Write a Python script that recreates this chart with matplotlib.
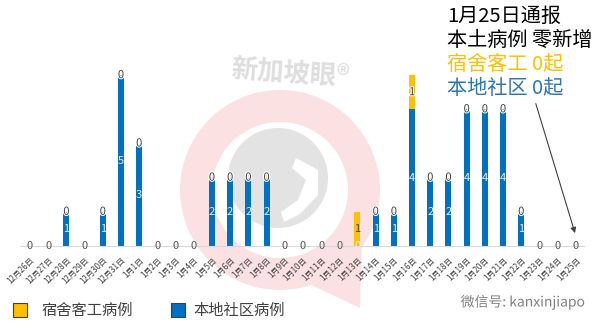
import numpy as np
import matplotlib.pyplot as plt
import matplotlib.patheffects as pe
from matplotlib.patches import Wedge, Polygon, Circle, Rectangle

plt.rcParams['font.family'] = ['Noto Sans CJK SC', 'DejaVu Sans']

# 每日新增病例 12月26日 - 1月25日
dates = ['12月26日', '12月27日', '12月28日', '12月29日', '12月30日', '12月31日',
         '1月1日', '1月2日', '1月3日', '1月4日', '1月5日', '1月6日', '1月7日',
         '1月8日', '1月9日', '1月10日', '1月11日', '1月12日', '1月13日',
         '1月14日', '1月15日', '1月16日', '1月17日', '1月18日', '1月19日',
         '1月20日', '1月21日', '1月22日', '1月23日', '1月24日', '1月25日']
local = [0, 0, 1, 0, 1, 5, 3, 0, 0, 0, 2, 2, 2, 2, 0, 0, 0, 0, 0,
         1, 1, 4, 2, 2, 4, 4, 4, 1, 0, 0, 0]
dorm = [0, 0, 0, 0, 0, 0, 0, 0, 0, 0, 0, 0, 0, 0, 0, 0, 0, 0, 1,
        0, 0, 1, 0, 0, 0, 0, 0, 0, 0, 0, 0]

blue = '#0070C0'
orange = '#FFC000'
W, H = 602, 328

fig = plt.figure(figsize=(W / 100, H / 100), dpi=100)


def fx(px):
    return px / W


def fy(py):
    return 1 - py / H


def pt(px, py):
    # 像素坐标 -> 英寸（左下角为原点）
    return (px / 100, (H - py) / 100)


inch = fig.dpi_scale_trans

# 水印
pink = '#fbe1e1'
fig.patches.append(Wedge(pt(280, 190), 1.0, 0, 360, width=0.32,
                         transform=inch, facecolor=pink,
                         edgecolor='none', zorder=-5))
fig.patches.append(Polygon([pt(305, 282), pt(362, 240), pt(360, 308)],
                           closed=True, transform=inch,
                           facecolor=pink, edgecolor='none', zorder=-5))
fig.patches.append(Circle(pt(278, 178), 0.5, transform=inch,
                          facecolor='#e3e3e3', edgecolor='none', zorder=-4))
fig.patches.append(Polygon([pt(296, 158), pt(318, 170), pt(318, 195),
                            pt(300, 214), pt(284, 222), pt(281, 212),
                            pt(298, 200), pt(306, 180), pt(292, 168)],
                           closed=True, transform=inch,
                           facecolor='white', edgecolor='none', zorder=-3))
fig.text(fx(290), fy(74), '新加坡眼®', fontsize=19, fontweight='bold',
         color='#dedede', ha='center', va='center', rotation=-4, zorder=-3)

ax = fig.add_axes([fx(20), fy(246), fx(564), (246 - 41) / H])
ax.set_facecolor('none')

x = np.arange(len(dates))
ax.bar(x, local, width=0.33, color=blue, zorder=2)
ax.bar(x, dorm, width=0.33, bottom=local, color=orange, zorder=2)

for i in range(len(dates)):
    ax.text(x[i], local[i] / 2, str(local[i]), ha='center', va='center',
            fontsize=8, color='#e6eef8', zorder=3)
for i in range(len(dates)):
    c = '#404040' if local[i] + dorm[i] > 0 else '#595959'
    t = ax.text(x[i], local[i] + dorm[i] / 2, str(dorm[i]), ha='center', va='center',
                fontsize=8, color=c, zorder=4)
    if local[i] > 0:
        t.set_path_effects([pe.withStroke(linewidth=1.5, foreground='white')])

ax.set_xlim(-0.55, len(dates) - 0.55)
ax.set_ylim(0, 6)
ax.set_yticks([])
for s in ['top', 'right', 'left']:
    ax.spines[s].set_visible(False)
ax.spines['bottom'].set_color('#d9d9d9')
ax.set_xticks(x)
ax.set_xticklabels(dates, rotation=45, ha='right', rotation_mode='anchor',
                   fontsize=5.8, color='#404040')
ax.tick_params(axis='x', length=0, pad=7)

# 右上角说明
notes = [('1月25日通报', 'black'), ('本土病例 零新增', 'black'),
         ('宿舍客工 0起', orange), ('本地社区 0起', '#2E75B6')]
for k, (s, c) in enumerate(notes):
    fig.text(fx(447), fy(16 + 24.3 * k), s, fontsize=14.5, color=c,
             ha='left', va='center')
ax.annotate('', xy=(30, 0.3), xycoords='data',
            xytext=(fx(535), fy(101)), textcoords='figure fraction',
            arrowprops=dict(arrowstyle='-|>', color='#404040', lw=0.8,
                            mutation_scale=8))

# 图例
fig.patches.append(Rectangle(pt(13, 317), 0.14, 0.14, transform=inch,
                             facecolor=orange, edgecolor='#404040', lw=0.8))
fig.text(fx(42), fy(310), '宿舍客工病例', fontsize=11, color='#404040', va='center')
fig.patches.append(Rectangle(pt(171, 317), 0.14, 0.14, transform=inch,
                             facecolor=blue, edgecolor='#404040', lw=0.8))
fig.text(fx(193), fy(310), '本地社区病例', fontsize=11, color='#404040', va='center')

fig.text(fx(585), fy(302), '微信号: kanxinjiapo', fontsize=10, color='#808080',
         ha='right', va='center',
         path_effects=[pe.withStroke(linewidth=1.5, foreground='white')])

fig.savefig('out.png', dpi=100)
